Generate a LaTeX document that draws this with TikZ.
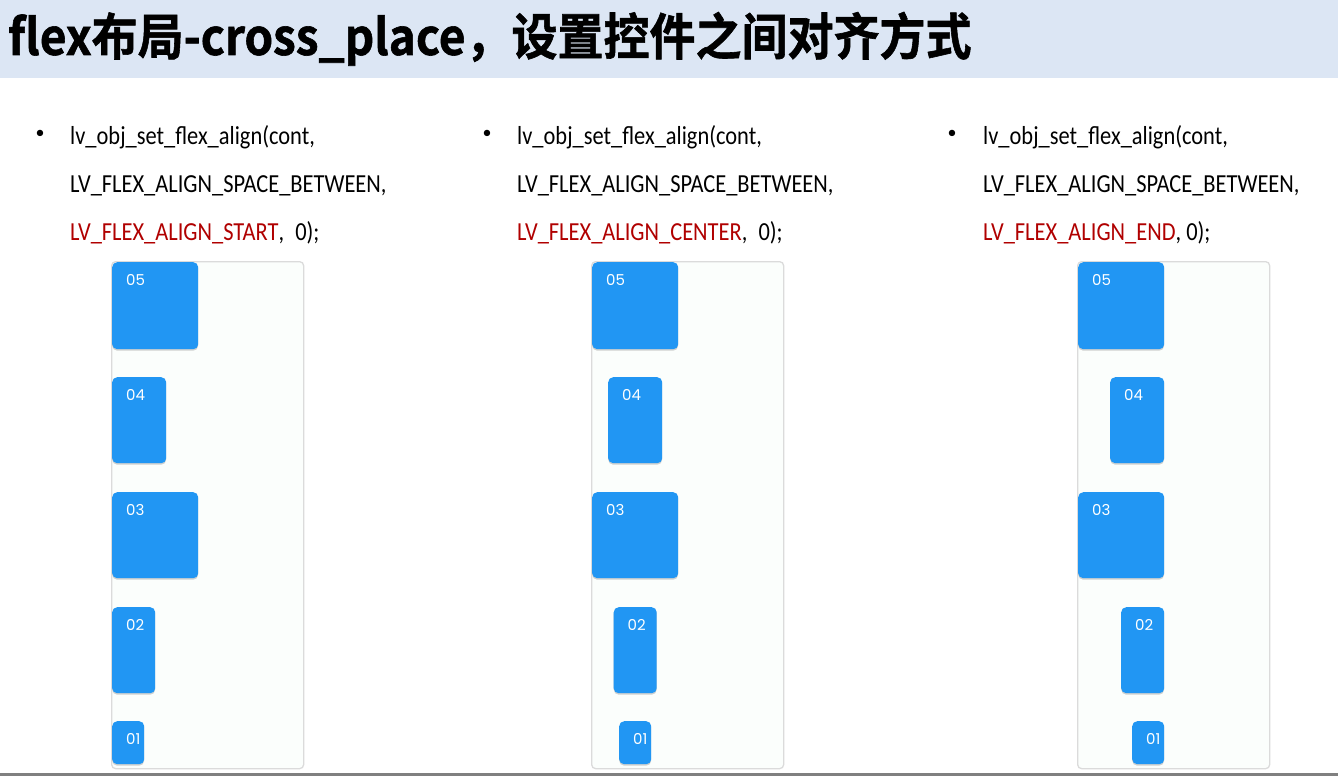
\documentclass[tikz,border=0pt]{standalone}
\usepackage{fontspec}
\usepackage{graphicx}
\usetikzlibrary{shadows}
\setmainfont{Carlito}
\newfontfamily\titlefont{Noto Sans CJK SC Bold}[FakeBold=1.2]
\newfontfamily\numfont{Poppins}
\definecolor{titlebg}{HTML}{DCE6F4}
\definecolor{lvblue}{HTML}{2196F3}
\definecolor{flexred}{RGB}{176,0,0}
\definecolor{panelbg}{HTML}{FBFEFC}
\newcommand\sqz[1]{\scalebox{0.863}[1]{#1}}
\begin{document}
\begin{tikzpicture}[
        x=1pt, y=-1pt,
        codeline/.style={anchor=base west, inner sep=0, font=\fontsize{26}{26}\selectfont},
        panel/.style={anchor=north west, draw=black!14, line width=1.3pt, fill=panelbg, rounded corners=4pt, inner sep=0},
        item/.style={anchor=north west, fill=lvblue, rounded corners=5pt, inner sep=0,
            drop shadow={shadow xshift=0pt, shadow yshift=-1.5pt, fill=black!40, opacity=.45}},
        num/.style={anchor=base west, inner sep=0, text=white, font=\numfont\fontsize{15}{15}\selectfont}
    ]
    \useasboundingbox (0,0) rectangle (1338,776);
    \fill[titlebg] (0,0) rectangle (1338,78);
    \fill[black!50] (0,773) rectangle (1338,776);
    \node[anchor=base west, inner sep=0] (title) at (8,55)
        {\titlefont\fontsize{50}{50}\selectfont\scalebox{0.92}[1]{flex布局-cross\_place，设置控件之间对齐方式}};
    % one column per cross_place value
    \foreach \col/\bx/\tx/\lx/\al/\mode/\pad in {s/37/70/112/0/START/7pt, c/484/517/592/0.5/CENTER/7pt, e/949/983/1078/1/END/0pt}{
        \node[anchor=center, inner sep=0, font=\fontsize{18}{18}\selectfont] (dot-\col) at (\bx+3,134) {•};
        \node[codeline] (t1-\col) at (\tx,144) {\sqz{lv\_obj\_set\_flex\_align(cont,}};
        \node[codeline] (t2-\col) at (\tx,192) {\sqz{LV\_FLEX\_ALIGN\_SPACE\_BETWEEN,}};
        \node[codeline] (t3-\col) at (\tx,240) {\sqz{\textcolor{flexred}{LV\_FLEX\_ALIGN\_\mode},\hspace{\pad} 0);}};
        \node[panel, minimum width=192pt, minimum height=507pt] (\col-cont) at (\lx-1,261) {};
        \foreach \n/\w/\h/\t in {05/86/87/262, 04/54/86/377, 03/86/86/492, 02/43/86/607, 01/32/43/721}{
            \node[item, minimum width=\w pt, minimum height=\h pt] (\col-\n) at ({\lx+\al*(86-\w)},\t) {};
            \node[num] (\col-\n-txt) at ([shift={(14,23)}]\col-\n.north west) {\n};
        }
    }
\end{tikzpicture}
\end{document}
